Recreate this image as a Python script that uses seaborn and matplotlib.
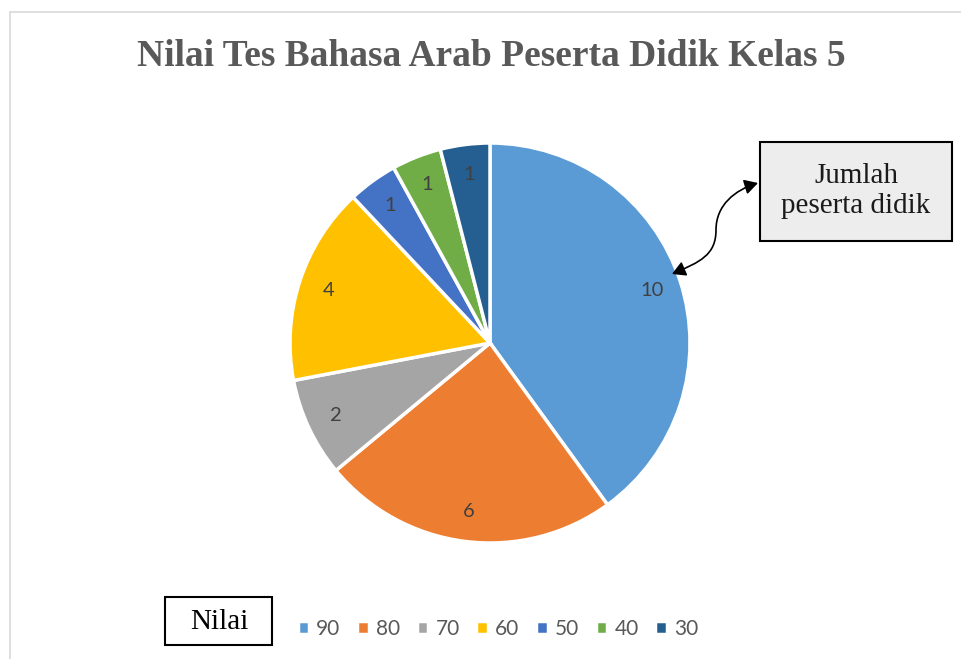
import matplotlib
matplotlib.use("Agg")
import matplotlib.pyplot as plt
import seaborn as sns
from matplotlib.patches import Rectangle, FancyArrowPatch
from matplotlib.path import Path

# ---- data ----
categories = ["90", "80", "70", "60", "50", "40", "30"]
counts = [10, 6, 2, 4, 1, 1, 1]
colors = ["#5B9BD5", "#ED7D31", "#A5A5A5", "#FFC000", "#4472C4", "#70AD47", "#255E91"]
title = "Nilai Tes Bahasa Arab Peserta Didik Kelas 5"
legend_title = "Nilai"
note_text = "Jumlah\npeserta didik"

sns.set_theme(style="white")
palette = sns.color_palette(colors)

W, H = 961, 659
fig = plt.figure(figsize=(W / 100, H / 100), dpi=100)
fig.patch.set_facecolor("white")

def fx(x):
    return x / W

def fy(y):
    return 1 - y / H

# outer chart frame
fig.patches.append(Rectangle((fx(10), -0.02), 1.05, fy(12) + 0.02, transform=fig.transFigure,
                             facecolor="none", edgecolor="#D9D9D9", linewidth=1.2))

# pie axes: center (490,343), radius 200
ax = fig.add_axes([fx(290), fy(543), 400 / W, 400 / H])
wedges, texts, autotexts = ax.pie(
    counts, colors=palette, startangle=90, counterclock=False,
    autopct=lambda p: f"{round(p * sum(counts) / 100):d}", pctdistance=0.85,
    wedgeprops=dict(edgecolor="white", linewidth=2.5),
    textprops=dict(color="#404040", fontsize=14.5, family=["Lato", "DejaVu Sans"]),
)
ax.set_xlim(-1.0, 1.0)
ax.set_ylim(-1.0, 1.0)
ax.set_aspect("equal")
ax.axis("off")

# title
fig.text(fx(491), fy(56), title, ha="center", va="center", fontsize=27, fontweight="bold",
         family=["Liberation Serif", "DejaVu Serif"], color="#595959")

# legend
leg = fig.legend(wedges, categories, ncol=7, loc="center",
                 bbox_to_anchor=(fx(498), fy(629)), frameon=False,
                 handlelength=0.55, handleheight=0.55, handletextpad=0.35, columnspacing=0.8,
                 prop=dict(family=["Lato", "DejaVu Sans"], size=15))
for t in leg.get_texts():
    t.set_color("#595959")

# "Nilai" box
fig.patches.append(Rectangle((fx(165), fy(645)), 107 / W, 48 / H, transform=fig.transFigure,
                             facecolor="white", edgecolor="black", linewidth=1.5))
fig.text(fx(219), fy(622), legend_title, ha="center", va="center", fontsize=21,
         family=["Liberation Serif", "DejaVu Serif"], color="black")

# annotation box
fig.patches.append(Rectangle((fx(760), fy(241)), 192 / W, 99 / H, transform=fig.transFigure,
                             facecolor="#EDEDED", edgecolor="black", linewidth=1.5))
fig.text(fx(856), fy(191), note_text, ha="center", va="center", fontsize=21,
         family=["Liberation Serif", "DejaVu Serif"], color="#1a1a1a", linespacing=1.2)

# S-shaped double arrow
pts = [(672, 274), (700, 262), (716, 255), (716, 230),
       (716, 205), (735, 190), (758, 183)]
verts = [(fx(x), fy(y)) for x, y in pts]
codes = [Path.MOVETO, Path.CURVE4, Path.CURVE4, Path.CURVE4,
         Path.CURVE4, Path.CURVE4, Path.CURVE4]
arrow = FancyArrowPatch(path=Path(verts, codes), arrowstyle="<|-|>,head_length=8,head_width=4.5",
                        color="black", linewidth=1.2, transform=fig.transFigure)
fig.patches.append(arrow)

fig.savefig("out.png", dpi=100, facecolor="white")
